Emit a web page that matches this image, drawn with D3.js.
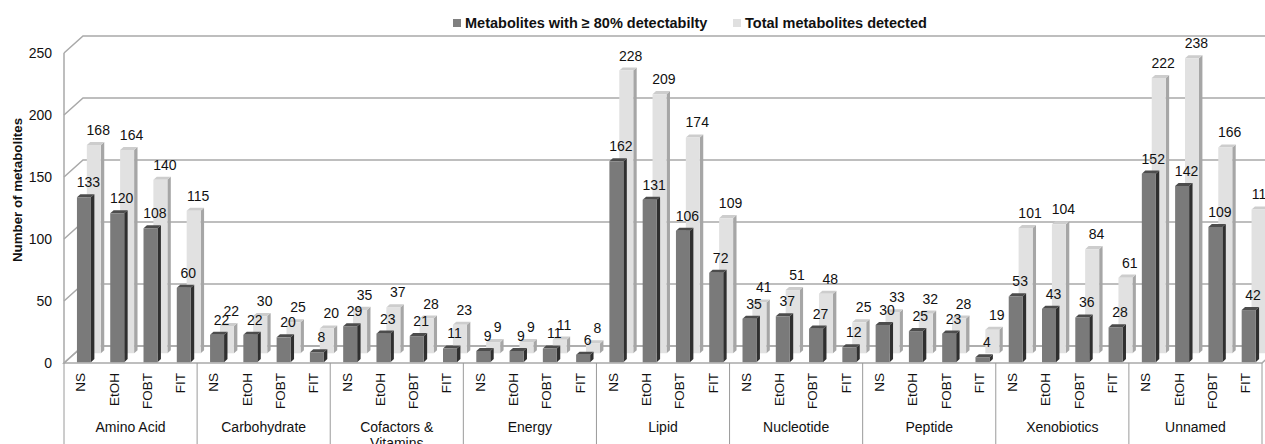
<!DOCTYPE html>
<html>
<head>
<meta charset="utf-8">
<script src="https://cdn.jsdelivr.net/npm/d3@7"></script>
<style>
  body { margin: 0; background: #fff; }
  text { font-family: "Liberation Sans", Arial, Helvetica, sans-serif; fill: #111; }
</style>
</head>
<body>
<svg id="chart" width="1265" height="444"></svg>
<script>
// Metabolite classes and the four sample types within each
const groups = ["Amino Acid", "Carbohydrate", "Cofactors & Vitamins", "Energy", "Lipid",
                "Nucleotide", "Peptide", "Xenobiotics", "Unnamed"];
const methods = ["NS", "EtOH", "FOBT", "FIT"];

// Metabolites with >= 80% detectability (front row)
const detectable = [
  133, 120, 108, 60,
  22, 22, 20, 8,
  29, 23, 21, 11,
  9, 9, 11, 6,
  162, 131, 106, 72,
  35, 37, 27, 12,
  30, 25, 23, 4,
  53, 43, 36, 28,
  152, 142, 109, 42
];
// Total metabolites detected (back row)
const totalDetected = [
  168, 164, 140, 115,
  22, 30, 25, 20,
  35, 37, 28, 23,
  9, 9, 11, 8,
  228, 209, 174, 109,
  41, 51, 48, 25,
  33, 32, 28, 19,
  101, 104, 84, 61,
  222, 238, 166, 116
];
const seriesNames = ["Metabolites with \u2265 80% detectabilty", "Total metabolites detected"];
const yTicks = [0, 50, 100, 150, 200, 250];

const svg = d3.select("#chart");

// plot frame: front floor edge and depth vector of the 3-D box
const left = 64, right = 1262, floorY = 363;
const depthX = 19, depthY = -17;

const slots = [];
groups.forEach((g, gi) => methods.forEach((m, mi) => slots.push({ group: g, method: m, key: gi + "|" + m })));

const x = d3.scaleBand().domain(slots.map(s => s.key)).range([left, right]).padding(0);
const xGroup = d3.scaleBand().domain(groups).range([left, right]).padding(0);
const h = d3.scaleLinear().domain([0, 250]).range([0, 310]);
const yFront = d3.scaleLinear().domain([0, 250]).range([floorY, floorY - 310]);

// project a point (screen x at front, value, depth 0..1) into the picture
const P = (px, v, d) => [px + d * depthX, floorY + d * depthY - h(v)];
const poly = pts => "M" + pts.map(p => p.join(",")).join("L") + "Z";

const gridColor = "#a9a9a9";

// floor
svg.append("path")
  .attr("d", poly([P(left, 0, 0), P(right, 0, 0), P(right, 0, 1), P(left, 0, 1)]))
  .attr("fill", "#fff").attr("stroke", gridColor).attr("stroke-width", 1.5);

// side wall diagonals and back wall gridlines
yTicks.forEach(t => {
  const a = P(left, t, 0), b = P(left, t, 1);
  svg.append("path")
    .attr("d", `M${a}L${b}L1265,${b[1]}`)
    .attr("fill", "none").attr("stroke", gridColor).attr("stroke-width", 1.5);
});
// front vertical axis line
svg.append("path")
  .attr("d", `M${P(left, 0, 0)}L${P(left, 250, 0)}`)
  .attr("stroke", gridColor).attr("stroke-width", 1.5);

// bars: back row (total) first, then front row (detectable)
const rows = [
  { values: totalDetected, d0: 0.57, dd: 0.18, front: "#e1e1e1", side: "#a6a6a6", top: "#cdcdcd" },
  { values: detectable, d0: 0.05, dd: 0.18, front: "#7a7a7a", side: "#2f2f2f", top: "#4c4c4c" }
];
const barOff = 12, barW = 14;

rows.forEach(row => {
  const g = svg.append("g");
  slots.forEach((s, i) => {
    const v = row.values[i];
    const xl = x(s.key) + barOff, xr = xl + barW;
    const d0 = row.d0, d1 = row.d0 + row.dd;
    g.append("path").attr("d", poly([P(xr, 0, d0), P(xr, v, d0), P(xr, v, d1), P(xr, 0, d1)]))
      .attr("fill", row.side);
    g.append("path").attr("d", poly([P(xl, v, d0), P(xr, v, d0), P(xr, v, d1), P(xl, v, d1)]))
      .attr("fill", row.top);
    g.append("path").attr("d", poly([P(xl, 0, d0), P(xr, 0, d0), P(xr, v, d0), P(xl, v, d0)]))
      .attr("fill", row.front);
  });
});

// value labels
rows.forEach(row => {
  slots.forEach((s, i) => {
    const v = row.values[i];
    const xl = x(s.key) + barOff;
    const p = P(xl + barW / 2 + 1, v, row.d0 + row.dd);
    svg.append("text")
      .attr("x", p[0]).attr("y", p[1] - 7)
      .attr("text-anchor", "middle").attr("font-size", 14)
      .text(v);
  });
});

// y axis tick labels
const yAxis = d3.axisLeft(yFront).tickValues(yTicks).tickSize(0).tickPadding(0);
const ya = svg.append("g").attr("transform", "translate(52,0)").call(yAxis);
ya.select(".domain").remove();
ya.selectAll("text").attr("font-size", 14).attr("fill", "#111")
  .style("font-family", '"Liberation Sans", Arial, Helvetica, sans-serif');

// axis title
svg.append("text")
  .attr("transform", "translate(22,190) rotate(-90)")
  .attr("text-anchor", "middle").attr("font-size", 13.3).attr("font-weight", "bold")
  .text("Number of metabolites");

// category axis: group separators, method labels, group labels
xGroup.domain().concat(["__end"]).forEach((g, gi) => {
  const gx = gi < groups.length ? xGroup(g) : right;
  svg.append("line")
    .attr("x1", gx).attr("x2", gx).attr("y1", floorY).attr("y2", 444)
    .attr("stroke", "#9a9a9a").attr("stroke-width", 1);
});
slots.forEach(s => {
  svg.append("text")
    .attr("transform", `translate(${x(s.key) + x.bandwidth() / 2},373) rotate(-90)`)
    .attr("text-anchor", "end").attr("dy", "0.35em").attr("font-size", 13.5)
    .text(s.method);
});
groups.forEach(g => {
  const cx = xGroup(g) + xGroup.bandwidth() / 2;
  const lines = g === "Cofactors & Vitamins" ? ["Cofactors &", "Vitamins"] : [g];
  lines.forEach((ln, li) => {
    svg.append("text")
      .attr("x", cx).attr("y", 432 + li * 16)
      .attr("text-anchor", "middle").attr("font-size", 14)
      .text(ln);
  });
});

// legend
const legendItems = [
  { name: seriesNames[0], color: "#808080", x: 453 },
  { name: seriesNames[1], color: "#e0e0e0", x: 733 }
];
legendItems.forEach(it => {
  svg.append("rect").attr("x", it.x).attr("y", 19).attr("width", 8).attr("height", 8).attr("fill", it.color);
  svg.append("text").attr("x", it.x + 12).attr("y", 28)
    .attr("font-size", 14.5).attr("font-weight", "bold")
    .text(it.name);
});
</script>
</body>
</html>
